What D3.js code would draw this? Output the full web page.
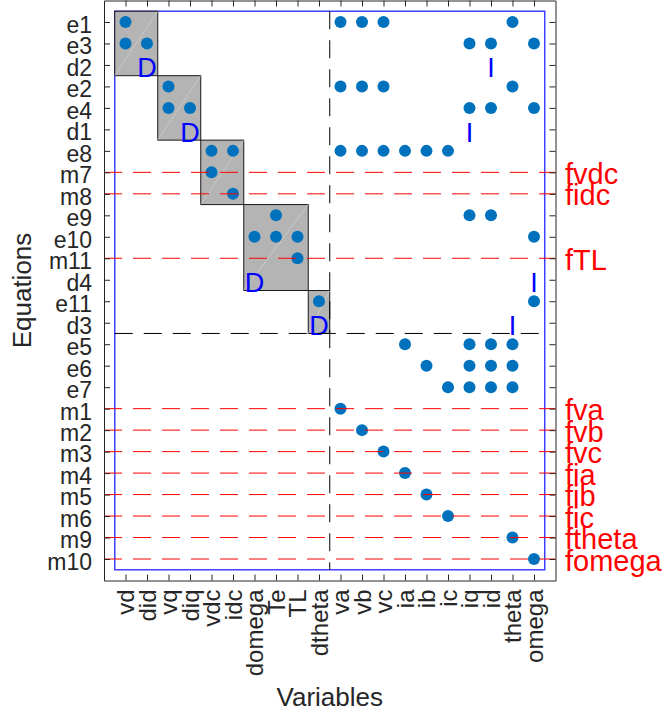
<!DOCTYPE html>
<html>
<head>
<meta charset="utf-8">
<script src="https://cdn.jsdelivr.net/npm/d3@7"></script>
<style>
  body { margin: 0; background: #fff; }
  svg { display: block; font-family: "Liberation Sans", Arial, Helvetica, sans-serif; }
</style>
</head>
<body>
<svg id="chart" width="665" height="718"></svg>
<script>
// variables (columns) and equations (rows), in plotted order
const variables = ["vd", "did", "vq", "diq", "vdc", "idc", "domega", "Te", "TL", "dtheta",
  "va", "vb", "vc", "ia", "ib", "ic", "iq", "id", "theta", "omega"];
const equations = ["e1", "e3", "d2", "e2", "e4", "d1", "e8", "m7", "m8", "e9", "e10", "m11", "d4",
  "e11", "d3", "e5", "e6", "e7", "m1", "m2", "m3", "m4", "m5", "m6", "m9", "m10"];

// square blocks of the decomposition
const blockEqs = [["e1", "e3", "d2"], ["e2", "e4", "d1"], ["e8", "m7", "m8"], ["e9", "e10", "m11", "d4"], ["e11", "d3"]];
const blockVars = [["vd", "did"], ["vq", "diq"], ["vdc", "idc"], ["domega", "Te", "TL"], ["dtheta"]];

// incidence, as [equation, variable]
const incidence = [
  ["e1", "vd"], ["e3", "vd"], ["e3", "did"],
  ["e2", "vq"], ["e4", "vq"], ["e4", "diq"],
  ["e8", "vdc"], ["e8", "idc"], ["m7", "vdc"], ["m8", "idc"],
  ["e9", "Te"], ["e10", "domega"], ["e10", "Te"], ["e10", "TL"], ["m11", "TL"],
  ["e11", "dtheta"],
  ["e1", "va"], ["e1", "vb"], ["e1", "vc"], ["e1", "theta"],
  ["e3", "iq"], ["e3", "id"], ["e3", "omega"],
  ["e2", "va"], ["e2", "vb"], ["e2", "vc"], ["e2", "theta"],
  ["e4", "iq"], ["e4", "id"], ["e4", "omega"],
  ["e8", "va"], ["e8", "vb"], ["e8", "vc"], ["e8", "ia"], ["e8", "ib"], ["e8", "ic"],
  ["e9", "iq"], ["e9", "id"], ["e10", "omega"], ["e11", "omega"],
  ["e5", "ia"], ["e5", "iq"], ["e5", "id"], ["e5", "theta"],
  ["e6", "ib"], ["e6", "iq"], ["e6", "id"], ["e6", "theta"],
  ["e7", "ic"], ["e7", "iq"], ["e7", "id"], ["e7", "theta"],
  ["m1", "va"], ["m2", "vb"], ["m3", "vc"], ["m4", "ia"], ["m5", "ib"], ["m6", "ic"],
  ["m9", "theta"], ["m10", "omega"]
];

// derivative / integral markers
const dMarks = [["d2", "did"], ["d1", "diq"], ["d4", "domega"], ["d3", "dtheta"]];
const iMarks = [["d2", "id"], ["d1", "iq"], ["d4", "omega"], ["d3", "theta"]];

// fault equations and their labels
const faultEqs = ["m7", "m8", "m11", "m1", "m2", "m3", "m4", "m5", "m6", "m9", "m10"];
const faultLabels = ["fvdc", "fidc", "fTL", "fva", "fvb", "fvc", "fia", "fib", "fic", "ftheta", "fomega"];

// border of the just-determined part
const lastJustEq = "d3";
const lastJustVar = "dtheta";

const svg = d3.select("#chart"),
  textColor = "#262626",
  dotColor = "#0072BD",
  plotLeft = 104, plotRight = 555.5, plotTop = 0.5, plotBottom = 580.5;

const x = d3.scaleLinear().domain([-1, variables.length]).range([plotLeft, plotRight]);
const y = d3.scaleLinear().domain([-1, equations.length]).range([plotTop, plotBottom]);
const col = v => x(variables.indexOf(v));
const row = e => y(equations.indexOf(e));

// blue outline of the matrix
svg.append("rect")
  .attr("x", x(-0.5)).attr("y", y(-0.5))
  .attr("width", x(variables.length - 0.5) - x(-0.5))
  .attr("height", y(equations.length - 0.5) - y(-0.5))
  .attr("fill", "none").attr("stroke", "#4040ff").attr("stroke-width", 1.5);

// gray blocks
const blocks = blockEqs.map((eqs, i) => {
  const vs = blockVars[i];
  return {
    x0: x(variables.indexOf(vs[0]) - 0.5), x1: x(variables.indexOf(vs[vs.length - 1]) + 0.5),
    y0: y(equations.indexOf(eqs[0]) - 0.5), y1: y(equations.indexOf(eqs[eqs.length - 1]) + 0.5)
  };
});
const bg = svg.append("g");
bg.selectAll("rect").data(blocks).enter().append("rect")
  .attr("x", d => d.x0).attr("y", d => d.y0)
  .attr("width", d => d.x1 - d.x0).attr("height", d => d.y1 - d.y0)
  .attr("fill", "#b4b4b4").attr("stroke", "#1a1a1a").attr("stroke-width", 1);
bg.selectAll("line").data(blocks).enter().append("line")
  .attr("x1", d => d.x0).attr("y1", d => d.y1)
  .attr("x2", d => d.x1).attr("y2", d => d.y0)
  .attr("stroke", "#d6d6d6").attr("stroke-width", 0.6);

// dots
svg.append("g").selectAll("circle").data(incidence).enter().append("circle")
  .attr("cx", d => col(d[1])).attr("cy", d => row(d[0]))
  .attr("r", 6).attr("fill", dotColor);

// D and I markers
const marks = dMarks.map(d => [d[0], d[1], "D"]).concat(iMarks.map(d => [d[0], d[1], "I"]));
svg.append("g").selectAll("text").data(marks).enter().append("text")
  .attr("x", d => col(d[1])).attr("y", d => row(d[0]))
  .attr("dy", "0.45em")
  .attr("text-anchor", "middle")
  .attr("font-size", 27)
  .attr("fill", "#0000ff")
  .text(d => d[2]);

// dashed border of the just-determined part
const je = equations.indexOf(lastJustEq) + 0.5, jv = variables.indexOf(lastJustVar) + 0.5;
svg.append("line")
  .attr("x1", x(-0.5)).attr("x2", x(variables.length - 0.5))
  .attr("y1", y(je)).attr("y2", y(je))
  .attr("stroke", "#000").attr("stroke-dasharray", "18,11");
svg.append("line")
  .attr("x1", x(jv)).attr("x2", x(jv))
  .attr("y1", y(-0.5)).attr("y2", y(equations.length - 0.5))
  .attr("stroke", "#000").attr("stroke-dasharray", "18,11");

// fault lines and labels
const fg = svg.append("g");
fg.selectAll("line").data(faultEqs).enter().append("line")
  .attr("x1", plotLeft).attr("x2", plotRight)
  .attr("y1", d => row(d)).attr("y2", d => row(d))
  .attr("stroke", "#ff0000").attr("stroke-dasharray", "18,11");
fg.selectAll("text").data(faultEqs).enter().append("text")
  .attr("x", 565).attr("y", d => row(d))
  .attr("dy", "0.4em")
  .attr("font-size", 29)
  .attr("fill", "#ff0000")
  .text((d, i) => faultLabels[i]);

// axes, ticks pointing inward
const colTicks = d3.range(variables.length), rowTicks = d3.range(equations.length);

const styleAxis = g => {
  g.select(".domain").attr("stroke", textColor);
  g.selectAll(".tick line").attr("stroke", textColor);
  g.selectAll(".tick text").attr("fill", textColor);
};

svg.append("g")
  .attr("transform", "translate(0," + plotBottom + ")")
  .call(d3.axisBottom(x).tickValues(colTicks).tickFormat(i => variables[i]).tickSizeInner(-6).tickSizeOuter(0))
  .call(styleAxis)
  .call(g => g.selectAll(".tick text")
    .attr("font-size", 24)
    .attr("transform", "rotate(-90)")
    .attr("x", -9).attr("y", 0).attr("dy", "0.35em")
    .attr("text-anchor", "end"));

svg.append("g")
  .attr("transform", "translate(0," + plotTop + ")")
  .call(d3.axisTop(x).tickValues(colTicks).tickFormat("").tickSizeInner(-6).tickSizeOuter(0))
  .call(styleAxis);

svg.append("g")
  .attr("transform", "translate(" + plotLeft + ",0)")
  .call(d3.axisLeft(y).tickValues(rowTicks).tickFormat(i => equations[i]).tickSizeInner(-6).tickSizeOuter(0).tickPadding(12))
  .call(styleAxis)
  .call(g => g.selectAll(".tick text")
    .attr("font-size", 23)
    .attr("dy", "0.45em"));

svg.append("g")
  .attr("transform", "translate(" + plotRight + ",0)")
  .call(d3.axisRight(y).tickValues(rowTicks).tickFormat("").tickSizeInner(-6).tickSizeOuter(0))
  .call(styleAxis);

// axis texts take the svg font
svg.selectAll("g").attr("font-family", null);
svg.selectAll(".domain").attr("stroke-width", 1);

// axis titles
svg.append("text")
  .attr("x", (plotLeft + plotRight) / 2).attr("y", 706)
  .attr("text-anchor", "middle")
  .attr("font-size", 26)
  .attr("fill", textColor)
  .text("Variables");

svg.append("text")
  .attr("transform", "translate(31," + (plotTop + plotBottom) / 2 + ") rotate(-90)")
  .attr("text-anchor", "middle")
  .attr("font-size", 26)
  .attr("fill", textColor)
  .text("Equations");
</script>
</body>
</html>
